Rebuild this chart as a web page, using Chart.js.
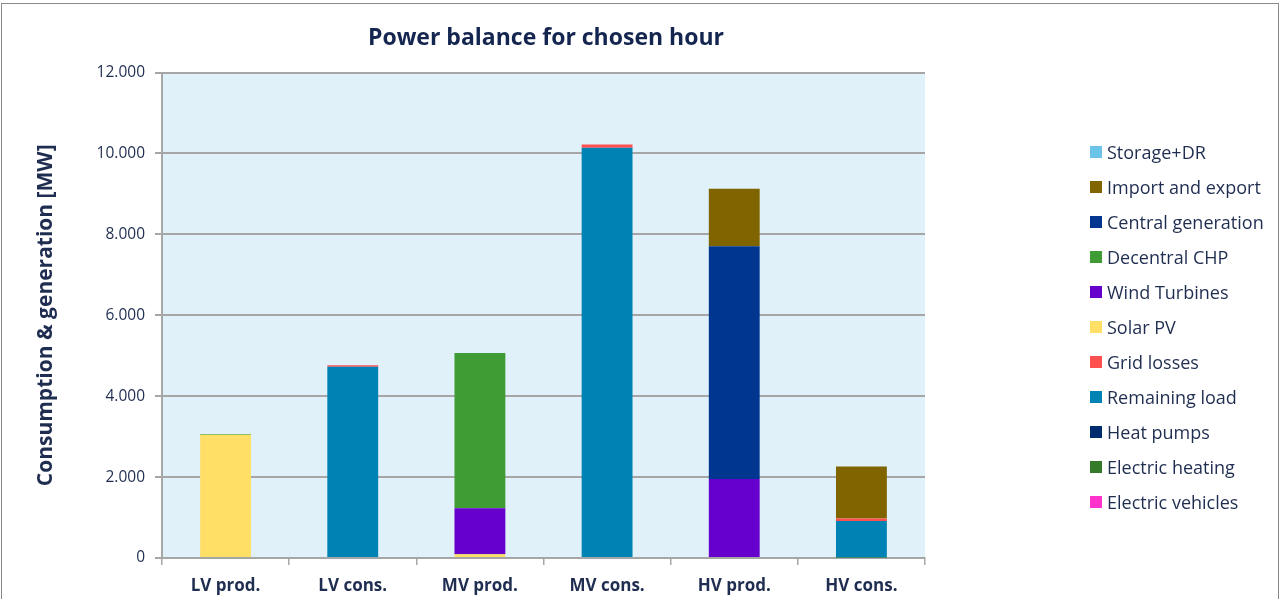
<!DOCTYPE html>
<html>
<head>
<meta charset="utf-8">
<script src="https://cdn.jsdelivr.net/npm/chart.js@4/dist/chart.umd.min.js"></script>
<style>
  html, body { margin: 0; padding: 0; background: #fff; overflow: hidden; }
  #wrap { position: relative; width: 1282px; height: 599px; }
  #frame { position: absolute; left: 1px; top: 3px; width: 1278px; height: 620px; border: 1px solid #8a8a8a; box-sizing: border-box; }
  canvas { position: absolute; left: 0; top: 0; }
  #legend { position: absolute; left: 1090px; top: 134px; font-family: 'Open Sans', Lato, sans-serif; font-size: 18px; color: #1f2d50; }
  .item { height: 35px; display: flex; align-items: center; white-space: nowrap; }
  .sw { width: 12px; height: 12px; margin-right: 5px; }
</style>
</head>
<body>
<div id="wrap">
  <div id="frame"></div>
  <canvas id="balanceChart" width="1282" height="599"></canvas>
  <div id="legend"></div>
</div>
<script>
// ---- data (MW) ----
const categories = ['LV prod.', 'LV cons.', 'MV prod.', 'MV cons.', 'HV prod.', 'HV cons.'];

// stacking order, bottom first
const electricVehicles  = [0, 0, 0, 0, 0, 0];
const electricHeating   = [0, 0, 0, 0, 0, 15];
const heatPumps         = [0, 0, 0, 0, 0, 0];
const remainingLoad     = [0, 4730, 0, 10140, 0, 900];
const gridLosses        = [0, 35, 0, 80, 0, 60];
const solarPV           = [3050, 0, 90, 0, 0, 0];
const windTurbines      = [0, 0, 1140, 0, 1950, 0];
const decentralCHP      = [15, 0, 3840, 0, 0, 0];
const centralGeneration = [0, 0, 0, 0, 5760, 0];
const importExport      = [0, 0, 0, 0, 1420, 1290];
const storageDR         = [0, 0, 0, 0, 0, 0];

const yTicks = [0, 2000, 4000, 6000, 8000, 10000, 12000];

const series = [
    { label: 'Electric vehicles',  data: electricVehicles,  color: '#ff33cc' },
    { label: 'Electric heating',   data: electricHeating,   color: '#357a2a' },
    { label: 'Heat pumps',         data: heatPumps,         color: '#002c6e' },
    { label: 'Remaining load',     data: remainingLoad,     color: '#0082b4' },
    { label: 'Grid losses',        data: gridLosses,        color: '#ff5050' },
    { label: 'Solar PV',           data: solarPV,           color: '#ffdf66' },
    { label: 'Wind Turbines',      data: windTurbines,      color: '#6600cc' },
    { label: 'Decentral CHP',      data: decentralCHP,      color: '#3f9c35' },
    { label: 'Central generation', data: centralGeneration, color: '#00368f' },
    { label: 'Import and export',  data: importExport,      color: '#7f6400' },
    { label: 'Storage+DR',         data: storageDR,         color: '#6cc5e9' }
];

const navy = '#1f2d50';
const gridGrey = '#a6a6a6';

function fmtDE(v) {
    return Number(v).toLocaleString('de-DE');
}

// light blue plot background
const plotBg = {
    id: 'plotBg',
    beforeDraw(chart) {
        const { ctx, chartArea: a } = chart;
        ctx.save();
        ctx.fillStyle = '#e0f1f9';
        ctx.fillRect(a.left, a.top, a.right - a.left, a.bottom - a.top);
        ctx.restore();
    }
};

Chart.defaults.font.family = '"Open Sans", Lato, sans-serif';
Chart.defaults.color = navy;

const chart = new Chart(document.getElementById('balanceChart'), {
    type: 'bar',
    data: {
        labels: categories,
        datasets: series.map(s => ({
            label: s.label,
            data: s.data,
            backgroundColor: s.color,
            borderWidth: 0,
            barPercentage: 0.4,
            categoryPercentage: 1.0
        }))
    },
    options: {
        responsive: false,
        animation: false,
        layout: { padding: { left: 0, right: 190, top: 0, bottom: 0 } },
        scales: {
            x: {
                stacked: true,
                grid: { display: true, drawOnChartArea: false, drawTicks: true, tickLength: 7, color: gridGrey, lineWidth: 1.5 },
                border: { display: true, color: gridGrey, width: 2 },
                ticks: { color: navy, font: { size: 17, weight: 'bold' }, padding: 11 },
                afterFit: s => { s.height = 41; }
            },
            y: {
                stacked: true,
                min: 0,
                max: 12000,
                afterBuildTicks: s => { s.ticks = yTicks.map(v => ({ value: v })); },
                grid: { color: gridGrey, lineWidth: 2, tickLength: 7 },
                border: { display: true, color: gridGrey, width: 2 },
                ticks: { color: navy, font: { size: 15.5 }, padding: 10, callback: v => fmtDE(v) },
                title: {
                    display: true,
                    text: 'Consumption & generation [MW]',
                    color: navy,
                    font: { size: 21, weight: 'bold' },
                    padding: { top: 33, bottom: 0 }
                },
                afterFit: s => { s.width = 162; }
            },
            // empty right axis, only to leave room for the legend
            yRight: {
                position: 'right',
                display: true,
                grid: { display: false },
                border: { display: false },
                ticks: { display: false },
                afterFit: s => { s.width = 167; }
            }
        },
        plugins: {
            legend: { display: false },
            tooltip: { enabled: false },
            title: {
                display: true,
                text: 'Power balance for chosen hour',
                color: '#14254f',
                font: { size: 23, weight: 'bold' },
                padding: { top: 25, bottom: 20 }
            }
        }
    },
    plugins: [plotBg]
});

// legend, top item = last dataset
const legendEl = document.getElementById('legend');
[...chart.data.datasets].reverse().forEach(ds => {
    const row = document.createElement('div');
    row.className = 'item';
    row.innerHTML = '<span class="sw" style="background:' + ds.backgroundColor + '"></span>' + ds.label;
    legendEl.appendChild(row);
});
</script>
</body>
</html>
